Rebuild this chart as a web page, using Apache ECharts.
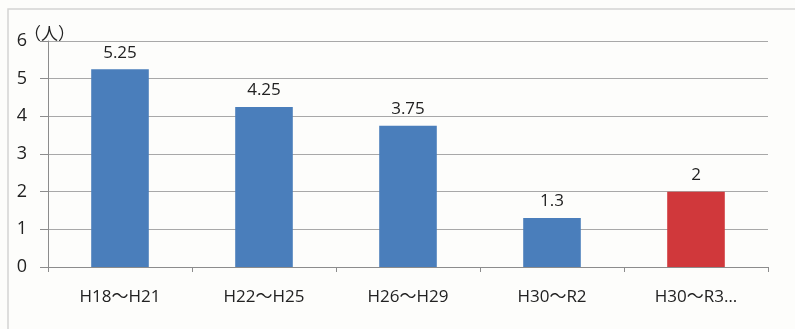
<!DOCTYPE html>
<html>
<head>
<meta charset="utf-8">
<script src="https://cdn.jsdelivr.net/npm/echarts@6/dist/echarts.min.js"></script>
<style>
  html, body { margin: 0; padding: 0; background: #fdfdfb; }
  #chart { width: 795px; height: 329px; }
</style>
</head>
<body>
<div id="chart"></div>
<script>
// Period categories and head counts (people)
const periods = ['H18～H21', 'H22～H25', 'H26～H29', 'H30～R2', 'H30～R3…'];
const counts = [5.25, 4.25, 3.75, 1.3, 2];
const barColors = ['#4a7ebb', '#4a7ebb', '#4a7ebb', '#4a7ebb', '#d0383b'];
const yTicks = [0, 1, 2, 3, 4, 5, 6];

const chart = echarts.init(document.getElementById('chart'), null, { renderer: 'canvas' });
const font = '"Open Sans", "Noto Sans CJK JP", sans-serif';

chart.setOption({
  backgroundColor: '#fdfdfb',
  animation: false,
  graphic: [
    {
      type: 'rect',
      shape: { x: 8, y: 9, width: 820, height: 360 },
      style: { fill: 'none', stroke: '#d4d4d4', lineWidth: 1.5 },
      silent: true
    },
    {
      type: 'text',
      left: 24, top: 25,
      style: { text: '（人）', font: '17px "Noto Sans CJK JP", sans-serif', fill: '#222' }
    }
  ],
  grid: { left: 48, right: 27, top: 41, bottom: 62 },
  xAxis: {
    type: 'category',
    data: periods,
    axisLine: { lineStyle: { color: '#8c8c8c', width: 1 } },
    axisTick: { show: true, length: 5, lineStyle: { color: '#8c8c8c' } },
    axisLabel: { color: '#222', fontSize: 17, fontFamily: font, margin: 22 }
  },
  yAxis: {
    type: 'value',
    min: yTicks[0],
    max: yTicks[yTicks.length - 1],
    interval: 1,
    axisLine: { show: true, lineStyle: { color: '#8c8c8c' } },
    axisTick: { show: true, length: 8, lineStyle: { color: '#8c8c8c' } },
    axisLabel: { color: '#222', fontSize: 18, fontFamily: font, margin: 21 },
    splitLine: { lineStyle: { color: '#a8a8a8', width: 1 } }
  },
  series: [{
    type: 'bar',
    data: counts.map((v, i) => ({ value: v, itemStyle: { color: barColors[i] } })),
    barWidth: '40%',
    label: {
      show: true,
      position: 'top',
      distance: 8,
      color: '#222',
      fontSize: 17,
      fontFamily: font
    }
  }]
});
</script>
</body>
</html>
